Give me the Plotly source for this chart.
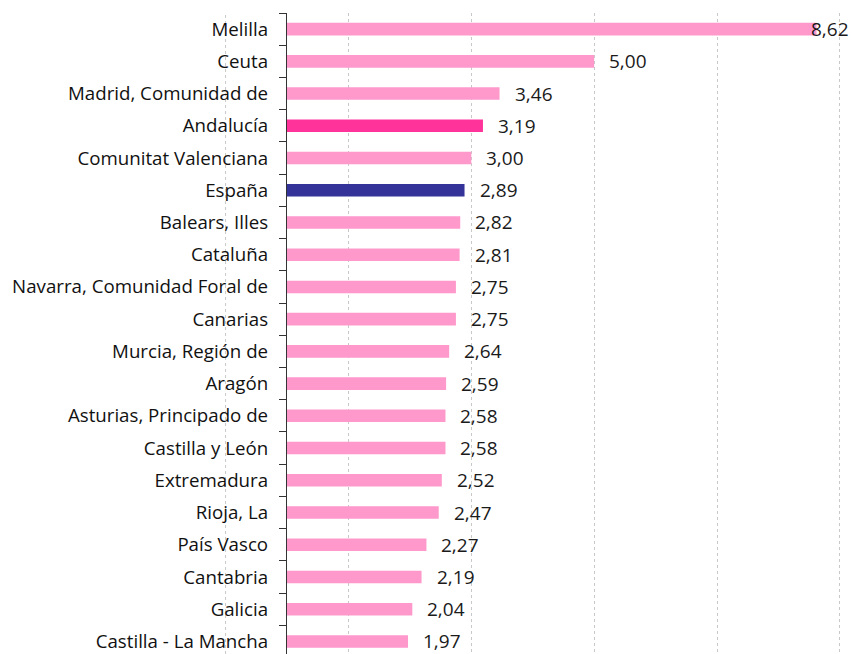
import plotly.graph_objects as go

categories = ["Melilla", "Ceuta", "Madrid, Comunidad de", "Andalucía", "Comunitat Valenciana",
              "España", "Balears, Illes", "Cataluña", "Navarra, Comunidad Foral de", "Canarias",
              "Murcia, Región de", "Aragón", "Asturias, Principado de", "Castilla y León",
              "Extremadura", "Rioja, La", "País Vasco", "Cantabria", "Galicia", "Castilla - La Mancha"]
values = [8.62, 5.00, 3.46, 3.19, 3.00, 2.89, 2.82, 2.81, 2.75, 2.75,
          2.64, 2.59, 2.58, 2.58, 2.52, 2.47, 2.27, 2.19, 2.04, 1.97]

PINK = "#FF99CC"
HIGHLIGHT = {"Andalucía": "#FF3399", "España": "#333399"}
colors = [HIGHLIGHT.get(c, PINK) for c in categories]

FONT = "Open Sans"
X_MAX = 9.1
W, H = 852, 654
M_R = 6
PLOT_LEFT = 287
D0 = PLOT_LEFT / (W - M_R)          # x-axis domain start (paper fraction)

fig = go.Figure(go.Bar(
    x=values, y=categories, orientation="h", width=0.39,
    marker=dict(color=colors, line=dict(width=0)),
    hoverinfo="skip",
))

annotations = []
for c, v in zip(categories, values):
    label = f"{v:.2f}".replace(".", ",")
    if v > 8.5:
        annotations.append(dict(x=1, xref="paper", y=c, yref="y", text=label, showarrow=False,
                                xanchor="right", xshift=5, font=dict(family=FONT, size=19, color="#1a1a1a")))
    else:
        annotations.append(dict(x=v, xref="x", y=c, yref="y", text=label, showarrow=False,
                                xanchor="left", xshift=13, font=dict(family=FONT, size=19, color="#1a1a1a")))

# grid line for x = -1, lying in the label area left of the plot
x_neg1 = D0 + (-1 / X_MAX) * (1 - D0)
shapes = [dict(type="line", xref="paper", yref="paper", x0=x_neg1, x1=x_neg1, y0=0, y1=1,
               line=dict(color="#C8C8C8", width=1, dash="dot"), layer="below")]

fig.update_layout(
    width=W, height=H,
    margin=dict(l=0, r=M_R, t=13, b=0, autoexpand=False),
    paper_bgcolor="white", plot_bgcolor="white",
    showlegend=False,
    annotations=annotations, shapes=shapes,
    xaxis=dict(domain=[D0, 1], range=[0, X_MAX], tick0=1, dtick=2, showgrid=True, gridcolor="#C8C8C8",
               griddash="dot", gridwidth=1, showticklabels=False, zeroline=False, showline=False,
               automargin=False),
    yaxis=dict(range=[19.39, -0.5], showline=True, linecolor="#333333", linewidth=1.3,
               ticks="outside", ticklen=7, tickcolor="#333333", tickson="boundaries",
               ticklabelstandoff=14, automargin=False,
               tickfont=dict(family=FONT, size=18.7, color="#111111")),
)

fig.write_html("out.html", config={"displayModeBar": False},
               post_script="document.body.style.margin='0';document.body.style.overflow='hidden';")
